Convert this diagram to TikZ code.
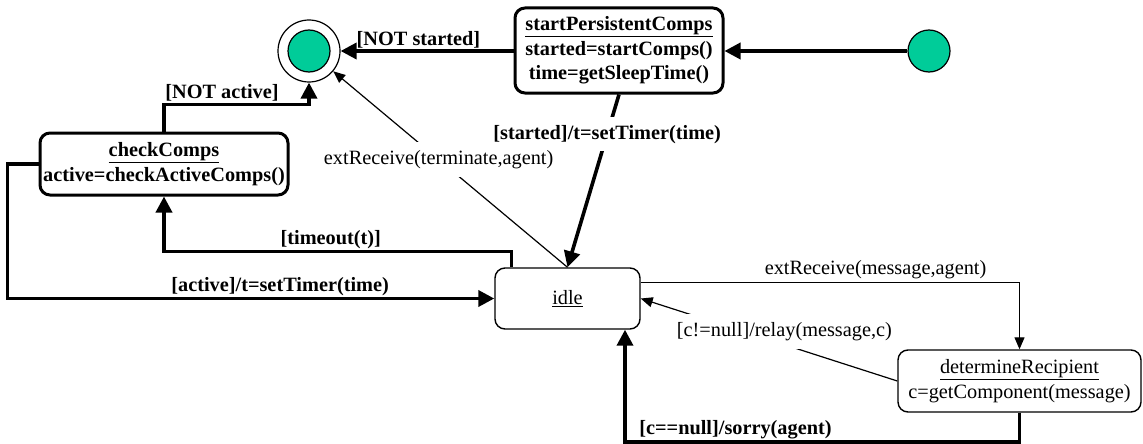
\documentclass[tikz,border=0pt]{standalone}
\usepackage{fontspec}
\setmainfont{Liberation Serif}
\usepackage{tikz}
\usetikzlibrary{arrows.meta,positioning,calc}
\definecolor{stategreen}{RGB}{0,204,153}
\newcommand{\diafont}{\fontsize{20.3}{24.5}\selectfont}
\tikzset{>={Triangle[length=16pt,width=16pt]}}
\tikzset{
  every node/.style={font=\diafont},
  state/.style={draw,rounded corners=10pt,align=center,line width=1.4pt,inner sep=0pt},
  bigstate/.style={state,line width=3pt,font=\diafont\bfseries},
  dot/.style={circle,draw,line width=1.2pt,inner sep=0pt},
  trans/.style={line width=3.6pt,->},
  msg/.style={line width=1.2pt,-{Triangle[length=12pt,width=10pt]}},
  lbl/.style={inner sep=1pt,font=\diafont\bfseries},
  cut/.style={fill=white,inner xsep=2pt,inner ysep=8pt}
}

\begin{document}
\begin{tikzpicture}[x=1pt,y=-1pt]
\useasboundingbox (0,0) rectangle (1143,444);

\node [dot,minimum size=62pt] (final) at (309,51) {};
\node [dot,fill=stategreen,minimum size=42pt] (finalcore) at (final) {};
\node [dot,fill=stategreen,minimum size=42pt] (init) at (929,51) {};

\node [bigstate,minimum width=208pt,minimum height=85pt] (start) at (619,50.5) {\underline{startPersistentComps}\\started=startComps()\\time=getSleepTime()};
\node [bigstate,minimum width=248pt,minimum height=62pt] (check) at (164,164) {\underline{checkComps}\\active=checkActiveComps()};
\node [state,minimum width=145pt,minimum height=61pt] (idle) at (567.5,298.5) {\underline{idle}};
\node [state,minimum width=243pt,minimum height=62pt] (recip) at (1019.5,381) {\underline{determineRecipient}\\c=getComponent(message)};

\begin{scope}[trans]
\draw (init) -- (init -| start.east);
\draw (start.west |- final) -- node[lbl,above,pos=0.55] {[NOT started]} (final);
\draw (check.north) -- ++(0,-27) -| node[lbl,above,pos=0.2] {[NOT active]} (final.south);
\draw (start.south) -- node[lbl,cut,pos=0.23] {[started]/t=setTimer(time)} (idle.north);
\draw ([xshift=-56pt]idle.north) -- ++(0,-16) -| node[lbl,above,pos=0.26] {[timeout(t)]} (check.south);
\draw (check.west) -- ++(-31,0) |- node[lbl,above,pos=0.78] {[active]/t=setTimer(time)} (idle.west);
\draw (recip.south) -- ++(0,29) -| node[lbl,above,pos=0.36] {[c==null]/sorry(agent)} ([xshift=57.5pt]idle.south);
\end{scope}

\begin{scope}[msg]
\draw (idle.north) -- node[cut,pos=0.55] {extReceive(terminate,agent)} (final);
\draw ([yshift=16pt]idle.east) -| node[above,inner sep=3pt,pos=0.31] {extReceive(message,agent)} (recip.north);
\draw (recip.west) -- node[cut,pos=0.44,yshift=13pt] {[c!=null]/relay(message,c)} (idle.east);
\end{scope}

\end{tikzpicture}
\end{document}
